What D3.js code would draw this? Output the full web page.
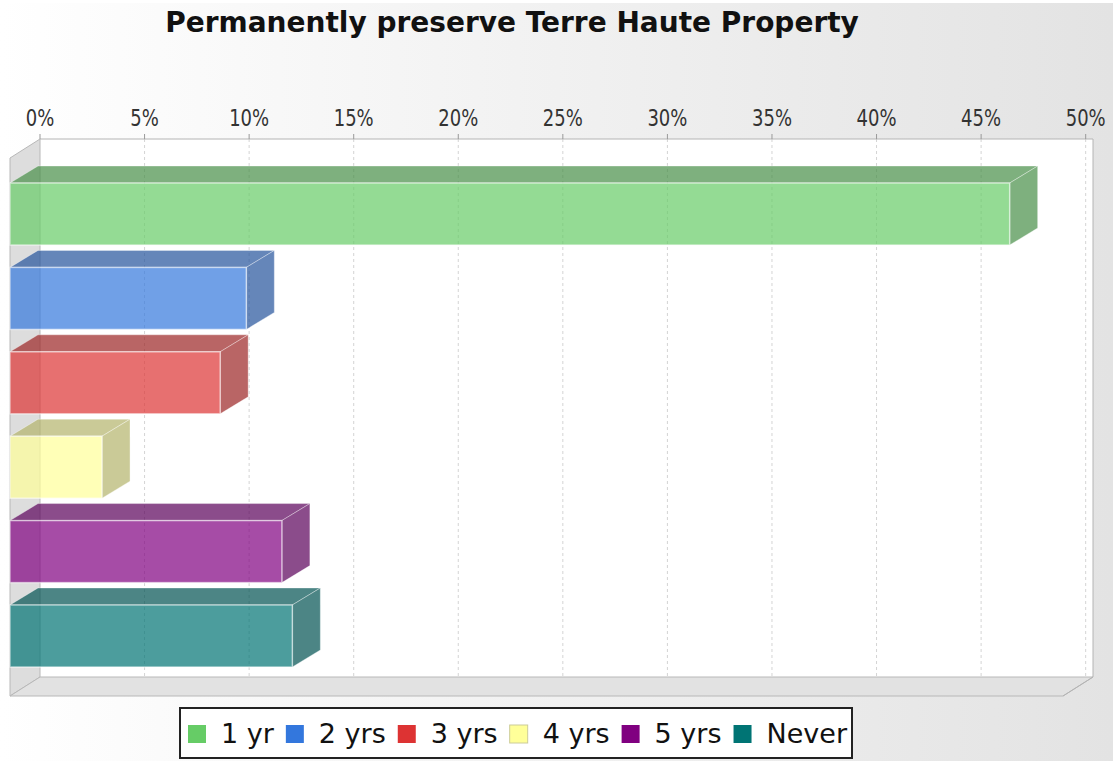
<!DOCTYPE html>
<html>
<head>
<meta charset="utf-8">
<script src="https://cdn.jsdelivr.net/npm/d3@7"></script>
<style>
  body { margin: 0; background: #fff; }
  svg { display: block; }
</style>
</head>
<body>
<div id="chart"></div>
<script>
// chart data
let categories = ["1 yr", "2 yrs", "3 yrs", "4 yrs", "5 yrs", "Never"];
let values = [47.8, 11.3, 10.05, 4.4, 13.0, 13.5];
let seriesColors = ["#66cc66", "#3377dd", "#dd3333", "#ffff99", "#800080", "#007474"];
let tickValues = [0, 5, 10, 15, 20, 25, 30, 35, 40, 45, 50];
let titleText = "Permanently preserve Terre Haute Property";

let width = 1113, height = 761;

// front face of the plot and the 3D depth offset
let front = { x0: 10, x1: 1063, y0: 158, y1: 696 };
let wallDx = 30, wallDy = -19;
let barDx = 28, barDy = -17;

let xScale = d3.scaleLinear().domain([0, 50.35]).range([front.x0, front.x1]);
let yScale = d3.scaleBand().domain(categories)
  .range([front.y0, front.y1])
  .paddingInner(0.265).paddingOuter(0.32).align(0.463);

let svg = d3.select("#chart").append("svg")
  .attr("width", width)
  .attr("height", height);

let defs = svg.append("defs");
let grad = defs.append("linearGradient").attr("id", "bg")
  .attr("x1", 0).attr("x2", 1).attr("y1", 0).attr("y2", 0);
grad.append("stop").attr("offset", "0%").attr("stop-color", "#ffffff");
grad.append("stop").attr("offset", "100%").attr("stop-color", "#e3e3e3");

svg.append("rect")
  .attr("x", 0).attr("y", 3)
  .attr("width", width).attr("height", height - 3)
  .attr("fill", "url(#bg)");

// title
svg.append("text")
  .attr("x", 512).attr("y", 32)
  .attr("text-anchor", "middle")
  .attr("font-family", "DejaVu Sans, sans-serif")
  .attr("font-weight", "bold")
  .attr("font-size", 28)
  .attr("fill", "#111")
  .text(titleText);

function pts(a) {
  return a.map(function(p) { return p[0] + "," + p[1]; }).join(" ");
}

let plot = svg.append("g");

// back wall
plot.append("rect")
  .attr("x", front.x0 + wallDx).attr("y", front.y0 + wallDy)
  .attr("width", front.x1 - front.x0).attr("height", front.y1 - front.y0)
  .attr("fill", "#fff");

// left wall
plot.append("polygon")
  .attr("points", pts([[front.x0, front.y0], [front.x0 + wallDx, front.y0 + wallDy],
                       [front.x0 + wallDx, front.y1 + wallDy], [front.x0, front.y1]]))
  .attr("fill", "#dddddd")
  .attr("stroke", "#b8b8b8")
  .attr("stroke-width", 1);

// bottom wall
plot.append("polygon")
  .attr("points", pts([[front.x0, front.y1], [front.x0 + wallDx, front.y1 + wallDy],
                       [front.x1 + wallDx, front.y1 + wallDy], [front.x1, front.y1]]))
  .attr("fill", "#e2e2e2")
  .attr("stroke", "#b8b8b8")
  .attr("stroke-width", 1);

// gridlines on back wall
plot.selectAll("line.grid")
  .data(tickValues.filter(function(d) { return d > 0; }))
  .enter().append("line")
  .attr("class", "grid")
  .attr("x1", function(d) { return xScale(d) + wallDx; })
  .attr("x2", function(d) { return xScale(d) + wallDx; })
  .attr("y1", front.y0 + wallDy)
  .attr("y2", front.y1 + wallDy)
  .attr("stroke", "#d4d4d4")
  .attr("stroke-dasharray", "3,3")
  .attr("stroke-width", 1);

// back wall outline (top & right)
plot.append("polyline")
  .attr("points", pts([[front.x0 + wallDx, front.y0 + wallDy], [front.x1 + wallDx, front.y0 + wallDy],
                       [front.x1 + wallDx, front.y1 + wallDy]]))
  .attr("fill", "none")
  .attr("stroke", "#b4b4b4")
  .attr("stroke-width", 1);
plot.append("line")
  .attr("x1", front.x1 + wallDx).attr("y1", front.y1 + wallDy)
  .attr("x2", front.x1).attr("y2", front.y1)
  .attr("stroke", "#b4b4b4");

// axis ticks and labels (drawn at the back)
let axis = svg.append("g");
axis.selectAll("line.tick")
  .data(tickValues)
  .enter().append("line")
  .attr("x1", function(d) { return xScale(d) + wallDx; })
  .attr("x2", function(d) { return xScale(d) + wallDx; })
  .attr("y1", front.y0 + wallDy - 5)
  .attr("y2", front.y0 + wallDy)
  .attr("stroke", "#999");
axis.selectAll("text")
  .data(tickValues)
  .enter().append("text")
  .attr("transform", function(d) { return "translate(" + (xScale(d) + wallDx) + ",126) scale(1,1.25)"; })
  .attr("text-anchor", "middle")
  .attr("font-family", "DejaVu Sans, sans-serif")
  .attr("font-size", 18)
  .attr("fill", "#333")
  .text(function(d) { return d + "%"; });

// 3D bars
let bars = plot.selectAll("g.bar")
  .data(categories.map(function(c, i) { return { cat: c, value: values[i], color: seriesColors[i] }; }))
  .enter().append("g")
  .attr("class", "bar");

bars.each(function(d) {
  let g = d3.select(this);
  let y = yScale(d.cat), h = yScale.bandwidth();
  let xl = xScale(0), xr = xScale(d.value);
  let c = d3.rgb(d.color);
  let side = d3.rgb(c.r * 0.7, c.g * 0.7, c.b * 0.7);

  g.append("polygon")
    .attr("points", pts([[xl, y], [xl + barDx, y + barDy], [xr + barDx, y + barDy], [xr, y]]))
    .attr("fill", side).attr("fill-opacity", 0.7)
    .attr("stroke", "#fff").attr("stroke-opacity", 0.35);
  g.append("polygon")
    .attr("points", pts([[xr, y], [xr + barDx, y + barDy], [xr + barDx, y + h + barDy], [xr, y + h]]))
    .attr("fill", side).attr("fill-opacity", 0.7)
    .attr("stroke", "#fff").attr("stroke-opacity", 0.35);
  g.append("rect")
    .attr("x", xl).attr("y", y)
    .attr("width", xr - xl).attr("height", h)
    .attr("fill", d.color).attr("fill-opacity", 0.7)
    .attr("stroke", "#fff").attr("stroke-opacity", 0.55).attr("stroke-width", 1.5);
});

// legend
let legend = svg.append("g");
legend.append("rect")
  .attr("x", 180).attr("y", 708)
  .attr("width", 672).attr("height", 50)
  .attr("fill", "#fff")
  .attr("stroke", "#222")
  .attr("stroke-width", 2);

let lx = 188;
categories.forEach(function(c, i) {
  legend.append("rect")
    .attr("x", lx).attr("y", 725)
    .attr("width", 18).attr("height", 18)
    .attr("fill", seriesColors[i])
    .attr("stroke", i === 3 ? "#cccc99" : "none");
  let t = legend.append("text")
    .attr("x", lx + 33).attr("y", 743)
    .attr("font-family", "DejaVu Sans, sans-serif")
    .attr("font-size", 27)
    .attr("fill", "#111")
    .text(c);
  lx += 33 + t.node().getComputedTextLength() + 12;
});
</script>
</body>
</html>
